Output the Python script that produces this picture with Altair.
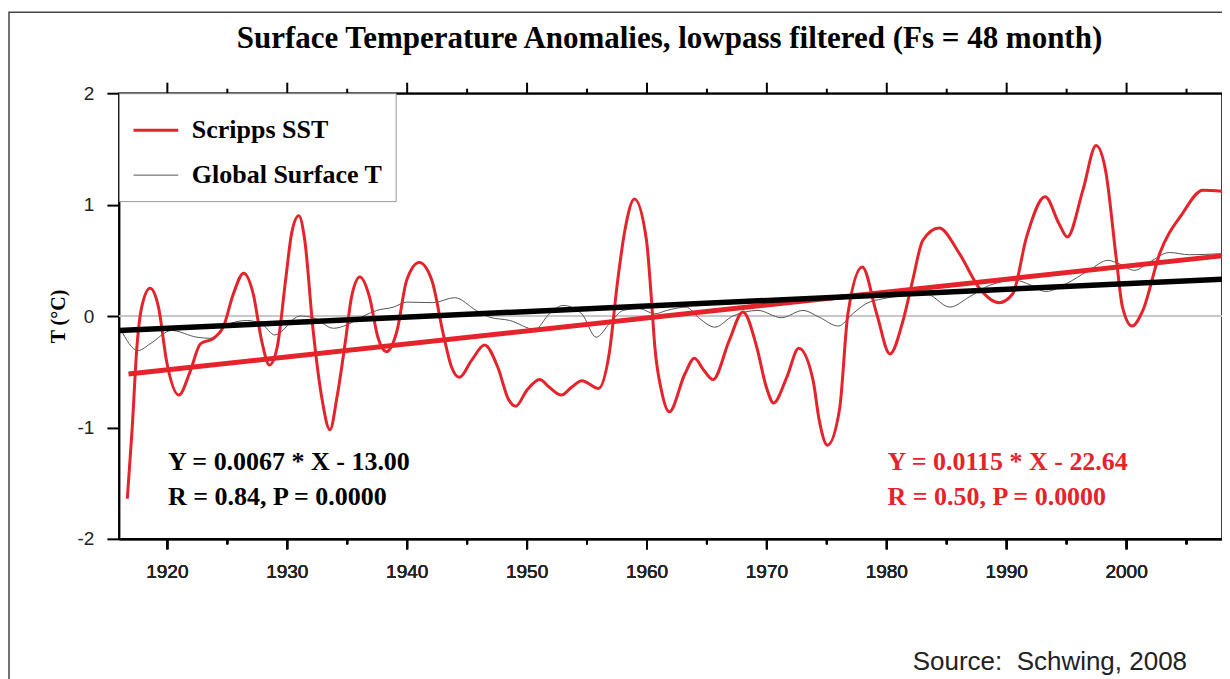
import altair as alt
import pandas as pd

RED = "#e5232b"

# ---- data ----
sst_year = [1916.7, 1917.1, 1917.5, 1917.9, 1918.6, 1919.3, 1920.0, 1921.0, 1921.9, 1922.8,
            1923.9, 1924.7, 1925.55, 1926.4, 1927.2, 1927.9, 1928.55, 1929.2, 1929.9, 1930.4,
            1931.0, 1931.5, 1932.2, 1932.9, 1933.6, 1934.2, 1934.9, 1935.4, 1936.1, 1936.9,
            1937.6, 1938.3, 1939.2, 1940.0, 1941.05, 1942.1, 1943.05, 1943.75, 1944.4, 1945.4,
            1946.5, 1947.6, 1948.5, 1949.1, 1950.0, 1951.1, 1951.9, 1952.9, 1953.75, 1954.6,
            1956.0, 1956.9, 1957.6, 1958.2, 1959.0, 1960.0, 1960.4, 1960.7, 1961.25, 1961.9,
            1963.2, 1964.0, 1964.8, 1965.55, 1966.9, 1968.05, 1969.2, 1970.0, 1970.6, 1971.7,
            1972.7, 1973.9, 1974.4, 1975.1, 1976.1, 1976.8, 1978.0, 1979.2, 1980.3, 1981.4,
            1982.2, 1983.05, 1984.4, 1986.1, 1987.8, 1989.4, 1990.55, 1991.7, 1993.25, 1994.4,
            1995.1, 1996.4, 1997.5, 1998.3, 1999.2, 1999.7, 2000.5, 2001.4, 2002.8, 2004.7,
            2006.4, 2008.0]
sst_temp = [-1.64, -1.02, -0.28, 0.08, 0.25, 0.08, -0.42, -0.71, -0.51, -0.25,
            -0.20, -0.10, 0.20, 0.385, 0.20, -0.22, -0.44, -0.28, 0.32, 0.74,
            0.90, 0.68, -0.13, -0.72, -1.02, -0.72, -0.22, 0.17, 0.35, 0.17,
            -0.19, -0.32, -0.13, 0.32, 0.48, 0.32, -0.16, -0.46, -0.55, -0.40,
            -0.26, -0.46, -0.75, -0.81, -0.67, -0.57, -0.64, -0.71, -0.64, -0.58,
            -0.65, -0.33, 0.32, 0.77, 1.05, 0.68, 0.17, -0.28, -0.67, -0.86,
            -0.52, -0.38, -0.49, -0.57, -0.22, 0.036, -0.28, -0.64, -0.78, -0.55,
            -0.29, -0.58, -0.93, -1.16, -0.84, 0.02, 0.44, 0.02, -0.34, -0.04,
            0.32, 0.68, 0.79, 0.56, 0.245, 0.12, 0.20, 0.71, 1.07, 0.83,
            0.71, 1.13, 1.53, 1.30, 0.50, 0.08, -0.09, 0.05, 0.56, 0.92,
            1.13, 1.12]

glob_year = [1916.1, 1917.6, 1918.6, 1920.4, 1922.5, 1923.6, 1925.0, 1926.7, 1928.0, 1929.0,
             1931.1, 1932.2, 1933.9, 1935.0, 1936.4, 1937.5, 1938.9, 1940.0, 1942.2, 1944.0,
             1945.8, 1946.9, 1948.6, 1950.7, 1951.9, 1953.05, 1954.6, 1955.8, 1956.9, 1958.05,
             1959.4, 1960.7, 1961.7, 1963.3, 1964.4, 1965.7, 1967.2, 1969.3, 1971.25, 1973.05,
             1974.4, 1976.0, 1977.2, 1978.3, 1979.7, 1981.1, 1983.3, 1985.3, 1986.9, 1988.6,
             1990.8, 1992.0, 1993.3, 1995.0, 1996.9, 1998.5, 1999.4, 2000.7, 2001.9, 2003.6,
             2005.3, 2008.0]
glob_temp = [-0.11, -0.31, -0.25, -0.13, -0.19, -0.20, -0.08, -0.04, -0.08, -0.17,
             0.00, -0.015, -0.11, -0.08, 0.00, 0.05, 0.08, 0.125, 0.12, 0.165,
             0.05, -0.01, -0.04, -0.12, 0.02, 0.095, 0.02, -0.19, -0.07, 0.05,
             0.066, 0.02, 0.05, 0.08, -0.02, -0.10, 0.00, 0.05, -0.015, 0.05,
             -0.01, -0.09, 0.02, 0.11, 0.155, 0.18, 0.20, 0.08, 0.17, 0.275,
             0.32, 0.28, 0.22, 0.29, 0.41, 0.50, 0.47, 0.41, 0.48, 0.57,
             0.55, 0.56]

trend_glob_year = [1916.0, 2008.0]
trend_glob_temp = [-0.13, 0.33]
trend_sst_year = [1916.8, 2008.0]
trend_sst_temp = [-0.52, 0.54]

series_names = ["Scripps SST", "Global Surface T"]
x_tick_values = list(range(1920, 2006, 5))
y_tick_values = [-2, -1, 0, 1, 2]

eq_text = ["Y = 0.0067 * X - 13.00", "R = 0.84, P = 0.0000",
           "Y = 0.0115 * X - 22.64", "R = 0.50, P = 0.0000"]
eq_year = [1920.1, 1920.1, 1980.1, 1980.1]
eq_temp = [-1.38, -1.695, -1.38, -1.695]
eq_color = ["black", "black", RED, RED]

title_text = "Surface Temperature Anomalies, lowpass filtered (Fs = 48 month)"
source_text = "Source:\u00a0 Schwing, 2008"

# ---- tables ----
sst_df = pd.DataFrame({"year": sst_year, "temp": sst_temp, "series": series_names[0],
                       "idx": range(len(sst_year))})
glob_df = pd.DataFrame({"year": glob_year, "temp": glob_temp, "series": series_names[1],
                        "idx": range(len(glob_year))})
tg_df = pd.DataFrame({"year": trend_glob_year, "temp": trend_glob_temp})
ts_df = pd.DataFrame({"year": trend_sst_year, "temp": trend_sst_temp})
eq_df = pd.DataFrame({"year": eq_year, "temp": eq_temp, "text": eq_text, "color": eq_color})
one_df = pd.DataFrame({"k": [0]})

x_scale = alt.Scale(domain=[1916, 2008], nice=False, zero=False)
y_scale = alt.Scale(domain=[-2, 2], nice=False)

major_test = "datum.value % 10 === 0"

bottom_axis = alt.Axis(
    orient="bottom", values=x_tick_values, title=None, grid=False,
    labelExpr=f"{major_test} ? datum.value + '' : ''",
    tickSize={"condition": {"test": major_test, "value": 10}, "value": 5},
    tickColor="black", tickWidth=2, domainColor="black", domainWidth=2,
    labelFont="Liberation Sans", labelFontSize=19, labelColor="#222",
    labelFontWeight="normal", labelPadding=14,
)
top_axis = alt.Axis(
    orient="top", values=x_tick_values, title=None, grid=False, labels=False,
    tickSize={"condition": {"test": major_test, "value": 11}, "value": 5},
    tickColor="black", tickWidth=2, domainColor="black", domainWidth=2,
)
left_axis = alt.Axis(
    values=y_tick_values, grid=False, title="T (°C)",
    labelExpr="datum.value + ''",
    tickSize=12, tickColor="black", tickWidth=2, domainColor="black", domainWidth=2,
    labelFont="Liberation Sans", labelFontSize=19, labelColor="#222",
    labelFontWeight="normal", labelPadding=13,
    titleFont="Liberation Serif", titleFontSize=20, titleFontWeight="bold",
    titleColor="black", titlePadding=9,
)

color_scale = alt.Scale(domain=series_names, range=[RED, "#555555"])
width_scale = alt.Scale(domain=series_names, range=[3, 1])

frame = alt.Chart(one_df).mark_rect(fill=None, stroke="#444", strokeWidth=1.5).encode(
    x=alt.value(-110), x2=alt.value(1300), y=alt.value(-81), y2=alt.value(700)
)

title = alt.Chart(one_df).mark_text(
    align="center", baseline="alphabetic", font="Liberation Serif",
    fontSize=31, fontWeight="bold", color="black",
).encode(x=alt.value(551), y=alt.value(-45), text=alt.value(title_text))

zero = alt.Chart(tg_df).mark_rule(color="#c4c4c4", strokeWidth=1.5).encode(
    y=alt.Y(datum=0, scale=y_scale, axis=left_axis)
)

glob_line = alt.Chart(glob_df).mark_line(interpolate="monotone").encode(
    x=alt.X("year:Q", scale=x_scale, axis=bottom_axis),
    y=alt.Y("temp:Q", scale=y_scale, axis=left_axis),
    order="idx:Q",
    color=alt.Color("series:N", scale=color_scale, title=None),
    strokeWidth=alt.StrokeWidth("series:N", scale=width_scale, title=None),
)

sst_line = alt.Chart(sst_df).mark_line(interpolate="monotone").encode(
    x=alt.X("year:Q", scale=x_scale, axis=bottom_axis),
    y=alt.Y("temp:Q", scale=y_scale, axis=left_axis),
    order="idx:Q",
    color=alt.Color("series:N", scale=color_scale, title=None),
    strokeWidth=alt.StrokeWidth("series:N", scale=width_scale, title=None),
)

sst_trend = alt.Chart(ts_df).mark_line(color=RED, strokeWidth=5).encode(
    x=alt.X("year:Q", scale=x_scale, axis=bottom_axis),
    y=alt.Y("temp:Q", scale=y_scale, axis=left_axis),
)

glob_trend = alt.Chart(tg_df).mark_line(color="black", strokeWidth=5.5).encode(
    x=alt.X("year:Q", scale=x_scale, axis=top_axis),
    y=alt.Y("temp:Q", scale=y_scale, axis=left_axis),
)

eqs = alt.Chart(eq_df).mark_text(
    align="left", baseline="alphabetic", font="Liberation Serif",
    fontWeight="bold", fontSize=26,
).encode(
    x=alt.X("year:Q", scale=x_scale, axis=bottom_axis),
    y=alt.Y("temp:Q", scale=y_scale, axis=left_axis),
    text="text:N",
    color=alt.Color("color:N", scale=None),
)

source = alt.Chart(one_df).mark_text(
    align="right", baseline="alphabetic", font="Liberation Sans",
    fontSize=26, color="#222",
).encode(x=alt.value(1069), y=alt.value(577), text=alt.value(source_text))

chart = alt.layer(
    frame, title, zero, glob_line, sst_line, sst_trend, glob_trend, eqs, source
).resolve_axis(x="independent").properties(
    width=1104, height=446,
    autosize=alt.AutoSizeParams(type="none"),
    padding={"left": 111, "top": 85, "right": 0, "bottom": 140},
).configure_view(stroke="black", strokeWidth=1.5).configure_legend(
    orient="none", legendX=0, legendY=0, strokeColor="#999", fillColor="white",
    padding=13, symbolType="stroke", symbolSize=2000, labelFont="Liberation Serif",
    labelFontSize=26, labelFontWeight="bold", labelColor="black", labelOffset=12,
    labelLimit=400, rowPadding=9, cornerRadius=0,
)

chart.save("out.html", embed_options={"renderer": "svg", "actions": False})
